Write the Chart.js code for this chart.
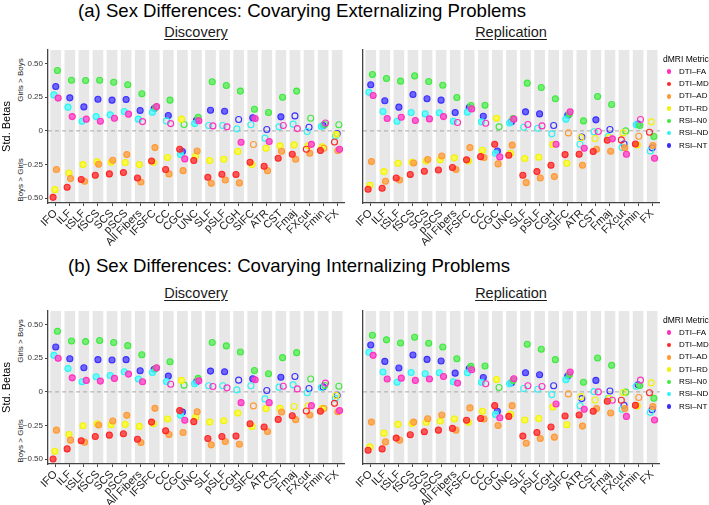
<!DOCTYPE html>
<html>
<head>
<meta charset="utf-8">
<script src="https://cdn.jsdelivr.net/npm/chart.js@4.4.1/dist/chart.umd.min.js"></script>
<style>
  html, body { margin: 0; padding: 0; background: #fff; overflow: hidden; }
  body { width: 709px; height: 505px; position: relative; font-family: "Liberation Sans", Arial, Helvetica, sans-serif; }
  canvas { position: absolute; }
  .title { position: absolute; font-size: 18.6px; line-height: 20px; color: #000; white-space: nowrap; }
  .sub { position: absolute; font-size: 14.5px; line-height: 16px; color: #1a1a1a; text-decoration: underline; text-underline-offset: 2px; white-space: nowrap; transform: translateX(-50%); }
  .side { position: absolute; font-size: 8px; line-height: 9px; color: #1a1a1a; white-space: nowrap; transform: translate(-50%, -50%) rotate(-90deg); }
  .legtitle { position: absolute; font-size: 8.5px; line-height: 10px; color: #000; white-space: nowrap; }
  .legitem { position: absolute; font-size: 8px; line-height: 10px; color: #000; white-space: nowrap; }
  .dot { position: absolute; width: 4.5px; height: 4.5px; border-radius: 50%; }
</style>
</head>
<body>
<div class="title" style="left:78px; top:1px;">(a) Sex Differences: Covarying Externalizing Problems</div>
<div class="title" style="left:68px; top:256px;">(b) Sex Differences: Covarying Internalizing Problems</div>
<div class="sub" style="left:196px; top:24px;">Discovery</div>
<div class="sub" style="left:511px; top:24px;">Replication</div>
<div class="sub" style="left:196px; top:285px;">Discovery</div>
<div class="sub" style="left:511px; top:285px;">Replication</div>
<div class="side" style="left:20px; top:80px;">Girls &gt; Boys</div>
<div class="side" style="left:20px; top:180px;">Boys &gt; Girls</div>
<div class="side" style="left:20px; top:341px;">Girls &gt; Boys</div>
<div class="side" style="left:20px; top:441px;">Boys &gt; Girls</div>

<canvas id="extDisc" width="350" height="222" style="left:0px; top:40px;"></canvas>
<canvas id="extRep" width="310" height="222" style="left:355px; top:40px;"></canvas>
<canvas id="intDisc" width="350" height="222" style="left:0px; top:301px;"></canvas>
<canvas id="intRep" width="310" height="222" style="left:355px; top:301px;"></canvas>

<script>
// tracts on the x axis
const categories = ["IFO", "ILF", "tSLF", "fSCS", "SCS", "pSCS", "All Fibers", "IFSFC", "CC", "CGC", "UNC",
                    "SLF", "pSLF", "CGH", "SIFC", "ATR", "CST", "Fmaj", "FXcut", "Fmin", "FX"];
const metrics = ["DTI–FA", "DTI–MD", "DTI–AD", "DTI–RD", "RSI–N0", "RSI–ND", "RSI–NT"];
const yTicks = [-0.5, -0.25, 0, 0.25, 0.5];
const yTickLabels = ["−0.50", "−0.25", "0", "0.25", "0.50"];

// (a) externalizing, discovery sample
const extDiscFA = [0.243, 0.106, 0.087, 0.072, 0.094, 0.124, 0.069, 0.180, 0.054, -0.208, 0.075, 0.037, 0.030, -0.084, 0.092, -0.079, 0.040, 0.017, -0.100, 0.059, -0.136];
const extDiscMD = [-0.493, -0.418, -0.361, -0.329, -0.319, -0.309, -0.349, -0.223, -0.287, -0.136, -0.220, -0.344, -0.322, -0.324, -0.233, -0.262, -0.203, -0.173, -0.136, -0.146, -0.082];
const extDiscAD = [-0.287, -0.354, -0.374, -0.248, -0.218, -0.176, -0.379, -0.124, -0.319, -0.295, -0.149, -0.389, -0.364, -0.386, -0.101, -0.295, -0.151, -0.210, -0.166, -0.129, -0.146];
const extDiscRD = [-0.436, -0.312, -0.250, -0.230, -0.233, -0.235, -0.250, -0.233, -0.198, 0.087, -0.186, -0.220, -0.210, -0.153, -0.250, -0.129, -0.111, -0.104, -0.110, -0.119, -0.025];
const extDiscN0 = [0.448, 0.376, 0.374, 0.376, 0.361, 0.342, 0.275, 0.176, 0.228, 0.047, 0.101, 0.364, 0.337, 0.295, 0.161, 0.136, 0.250, 0.295, 0.094, 0.047, 0.045];
const extDiscND = [0.267, 0.176, 0.072, 0.106, 0.119, 0.144, 0.087, 0.139, 0.074, -0.176, 0.054, 0.040, 0.040, 0.015, 0.045, -0.054, 0.030, 0.050, -0.005, 0.032, -0.040];
const extDiscNT = [0.329, 0.245, 0.178, 0.235, 0.228, 0.233, 0.151, 0.166, 0.114, -0.153, 0.079, 0.153, 0.146, 0.084, 0.097, 0.010, 0.104, 0.111, 0.027, 0.040, -0.020];
// 1 = significant (filled), 0 = not significant (open)
const extDiscSig = ["111111010110011100101", "111111111111111111010", "111111111111110111101", "111111111111111111111",
                    "111111111011111111000", "111111110110000000010", "111111111111101010010"];

// (a) externalizing, replication sample
const extRepFA = [0.262, 0.092, 0.101, 0.077, 0.089, 0.106, 0.062, 0.163, 0.057, -0.193, 0.087, 0.047, 0.037, -0.099, 0.141, -0.129, -0.005, -0.059, -0.173, 0.084, -0.203];
const extRepMD = [-0.433, -0.426, -0.349, -0.324, -0.300, -0.290, -0.272, -0.215, -0.191, -0.099, -0.181, -0.329, -0.302, -0.255, -0.176, -0.173, -0.153, -0.069, -0.067, -0.097, -0.010];
const extRepAD = [-0.228, -0.374, -0.364, -0.238, -0.213, -0.186, -0.287, -0.124, -0.198, -0.245, -0.106, -0.384, -0.349, -0.339, -0.015, -0.255, -0.136, -0.151, -0.126, -0.040, -0.109];
const extRepRD = [-0.403, -0.302, -0.240, -0.233, -0.223, -0.215, -0.200, -0.223, -0.144, 0.094, -0.166, -0.205, -0.196, -0.101, -0.240, -0.050, -0.057, -0.050, -0.015, -0.104, 0.067];
const extRepN0 = [0.418, 0.389, 0.369, 0.408, 0.366, 0.339, 0.248, 0.188, 0.190, 0.030, 0.092, 0.354, 0.322, 0.238, 0.126, 0.074, 0.255, 0.196, 0.000, 0.040, -0.042];
const extRepND = [0.287, 0.144, 0.072, 0.136, 0.126, 0.134, 0.072, 0.139, 0.067, -0.166, 0.059, 0.027, 0.020, -0.022, 0.087, -0.099, -0.007, -0.042, -0.124, 0.045, -0.149];
const extRepNT = [0.342, 0.223, 0.176, 0.270, 0.238, 0.228, 0.136, 0.173, 0.109, -0.149, 0.067, 0.141, 0.126, 0.040, 0.116, -0.045, 0.082, 0.010, -0.097, 0.050, -0.126];
const extRepSig = ["111111010110011101101", "111111111111111111010", "111111111111110111101", "111111111111111000010",
                   "111111111011111111011", "111111111110001000010", "111111111111101010010"];

// (b) internalizing, discovery sample
const intDiscFA = [0.249, 0.104, 0.085, 0.080, 0.100, 0.132, 0.075, 0.179, 0.057, -0.211, 0.082, 0.040, 0.030, -0.080, 0.090, -0.080, 0.042, 0.022, -0.102, 0.065, -0.139];
const intDiscMD = [-0.498, -0.423, -0.363, -0.331, -0.321, -0.311, -0.351, -0.224, -0.289, -0.139, -0.221, -0.346, -0.331, -0.328, -0.236, -0.261, -0.204, -0.177, -0.142, -0.144, -0.085];
const intDiscAD = [-0.284, -0.358, -0.373, -0.246, -0.216, -0.174, -0.376, -0.122, -0.316, -0.301, -0.147, -0.393, -0.368, -0.388, -0.104, -0.294, -0.149, -0.206, -0.172, -0.124, -0.147];
const intDiscRD = [-0.440, -0.316, -0.251, -0.236, -0.244, -0.241, -0.256, -0.236, -0.201, 0.085, -0.189, -0.224, -0.214, -0.157, -0.256, -0.124, -0.122, -0.109, -0.104, -0.122, -0.027];
const intDiscN0 = [0.450, 0.378, 0.373, 0.381, 0.366, 0.343, 0.276, 0.175, 0.224, 0.050, 0.100, 0.366, 0.341, 0.296, 0.159, 0.134, 0.254, 0.291, 0.095, 0.047, 0.042];
const intDiscND = [0.271, 0.174, 0.075, 0.112, 0.122, 0.149, 0.095, 0.144, 0.077, -0.174, 0.060, 0.045, 0.045, 0.015, 0.045, -0.052, 0.035, 0.052, -0.007, 0.032, -0.047];
const intDiscNT = [0.333, 0.246, 0.179, 0.239, 0.236, 0.239, 0.157, 0.167, 0.117, -0.149, 0.075, 0.154, 0.149, 0.087, 0.097, 0.010, 0.109, 0.114, 0.025, 0.037, -0.025];
const intDiscSig = ["111111110110011100101", "111111111111111111010", "111111111111110111101", "111111111111111110010",
                    "111111111011111111000", "111111111110000000000", "111111111111101010000"];

// (b) internalizing, replication sample
const intRepFA = [0.271, 0.095, 0.102, 0.085, 0.095, 0.114, 0.065, 0.164, 0.060, -0.192, 0.097, 0.045, 0.040, -0.090, 0.147, -0.129, 0.000, -0.062, -0.182, 0.087, -0.209];
const intRepMD = [-0.433, -0.423, -0.343, -0.318, -0.296, -0.284, -0.271, -0.211, -0.197, -0.102, -0.182, -0.328, -0.301, -0.261, -0.179, -0.172, -0.144, -0.070, -0.062, -0.100, -0.007];
const intRepAD = [-0.224, -0.371, -0.358, -0.224, -0.199, -0.172, -0.284, -0.119, -0.201, -0.249, -0.102, -0.381, -0.346, -0.336, -0.015, -0.254, -0.124, -0.157, -0.124, -0.042, -0.109];
const intRepRD = [-0.408, -0.306, -0.241, -0.234, -0.226, -0.216, -0.201, -0.226, -0.144, 0.092, -0.167, -0.209, -0.197, -0.112, -0.244, -0.035, -0.060, -0.050, -0.005, -0.104, 0.067];
const intRepN0 = [0.420, 0.386, 0.363, 0.405, 0.361, 0.333, 0.246, 0.189, 0.192, 0.032, 0.085, 0.353, 0.316, 0.239, 0.129, 0.072, 0.251, 0.197, -0.002, 0.047, -0.047];
const intRepND = [0.294, 0.147, 0.072, 0.144, 0.134, 0.142, 0.075, 0.142, 0.072, -0.167, 0.060, 0.025, 0.020, -0.020, 0.090, -0.102, 0.002, -0.047, -0.129, 0.042, -0.152];
const intRepNT = [0.348, 0.226, 0.177, 0.274, 0.241, 0.229, 0.139, 0.174, 0.107, -0.144, 0.067, 0.142, 0.127, 0.045, 0.117, -0.050, 0.085, 0.007, -0.100, 0.052, -0.132];
const intRepSig = ["111111110110011100101", "111111111111111111010", "111111111111110111101", "111111111111111000010",
                   "111111111011111111011", "111111111110001000000", "111111111111101010000"];

// styling
const strokes = ["#ff2fc0", "#ff2626", "#ff9a30", "#f2f200", "#3fe83f", "#2ef2f2", "#3a2eff"];
const fills = ["rgba(255,70,200,0.8)", "rgba(255,50,50,0.8)", "rgba(255,160,70,0.8)", "rgba(255,255,40,0.8)",
               "rgba(90,240,90,0.8)", "rgba(80,255,255,0.8)", "rgba(80,70,255,0.8)"];
const dodge = [0.17, -0.19, 0.05, -0.06, 0.12, -0.13, 0.0];
const bandHalf = 0.38;

const bandPlugin = {
    id: "bands",
    beforeDraw(chart) {
        const { ctx, chartArea, scales: { x, y } } = chart;
        ctx.save();
        ctx.fillStyle = "#e7e7e7";
        categories.forEach((c, i) => {
            const l = x.getPixelForValue(i - bandHalf);
            const r = x.getPixelForValue(i + bandHalf);
            ctx.fillRect(l, chartArea.top, r - l, chartArea.bottom - chartArea.top);
        });
        const y0 = y.getPixelForValue(0);
        ctx.strokeStyle = "#a8a8a8";
        ctx.lineWidth = 1;
        ctx.setLineDash([4, 3]);
        ctx.beginPath();
        ctx.moveTo(chartArea.left, y0);
        ctx.lineTo(chartArea.right, y0);
        ctx.stroke();
        ctx.restore();
    }
};

function makePanel(canvasId, series, sig, showY) {
    const datasets = metrics.map((m, k) => ({
        label: m,
        data: series[k].map((v, i) => ({ x: i + dodge[k], y: v })),
        pointBackgroundColor: series[k].map((v, i) => sig[k][i] === "1" ? fills[k] : "rgba(0,0,0,0)"),
        pointBorderColor: strokes[k],
        pointBorderWidth: 1.1,
        pointRadius: 3,
        showLine: false
    }));

    new Chart(document.getElementById(canvasId), {
        type: "scatter",
        data: { datasets: datasets },
        plugins: [bandPlugin],
        options: {
            responsive: false,
            animation: false,
            layout: { padding: { top: 10, right: 5, left: 0, bottom: 0 } },
            plugins: { legend: { display: false }, tooltip: { enabled: false } },
            scales: {
                x: {
                    type: "linear",
                    min: -0.55,
                    max: 20.55,
                    afterBuildTicks: s => { s.ticks = categories.map((c, i) => ({ value: i })); },
                    afterFit: s => { s.height = 59; },
                    ticks: {
                        autoSkip: false,
                        minRotation: 45,
                        maxRotation: 45,
                        padding: 1,
                        color: "#1a1a1a",
                        font: { family: "'Liberation Sans', Arial", size: 11 },
                        callback: v => categories[v]
                    },
                    grid: { drawOnChartArea: false, tickLength: 3, color: "#444" },
                    border: { color: "#444", width: 1.3 }
                },
                y: {
                    min: -0.535,
                    max: 0.6,
                    afterBuildTicks: s => { s.ticks = yTicks.map(v => ({ value: v })); },
                    afterFit: s => { s.width = showY ? 48 : 8; },
                    ticks: {
                        display: showY,
                        padding: 2,
                        color: "#333",
                        font: { family: "'Liberation Sans', Arial", size: 8 },
                        callback: (v, idx) => yTickLabels[idx]
                    },
                    grid: { drawOnChartArea: false, tickLength: showY ? 3 : 0, color: "#444" },
                    border: { color: "#444", width: 1.3 },
                    title: {
                        display: showY,
                        text: "Std. Betas",
                        padding: 0,
                        color: "#000",
                        font: { family: "'Liberation Sans', Arial", size: 11 }
                    }
                }
            }
        }
    });
}

function makeLegend(top) {
    const t = document.createElement("div");
    t.className = "legtitle";
    t.style.left = "663px";
    t.style.top = (top - 5) + "px";
    t.textContent = "dMRI Metric";
    document.body.appendChild(t);
    metrics.forEach((m, k) => {
        const cy = top + 12.7 + k * 12.3;
        const d = document.createElement("div");
        d.className = "dot";
        d.style.left = "666.5px";
        d.style.top = (cy - 2.25) + "px";
        d.style.background = strokes[k];
        document.body.appendChild(d);
        const l = document.createElement("div");
        l.className = "legitem";
        l.style.left = "679px";
        l.style.top = (cy - 5) + "px";
        l.textContent = m;
        document.body.appendChild(l);
    });
}

makePanel("extDisc", [extDiscFA, extDiscMD, extDiscAD, extDiscRD, extDiscN0, extDiscND, extDiscNT], extDiscSig, true);
makePanel("extRep", [extRepFA, extRepMD, extRepAD, extRepRD, extRepN0, extRepND, extRepNT], extRepSig, false);
makePanel("intDisc", [intDiscFA, intDiscMD, intDiscAD, intDiscRD, intDiscN0, intDiscND, intDiscNT], intDiscSig, true);
makePanel("intRep", [intRepFA, intRepMD, intRepAD, intRepRD, intRepN0, intRepND, intRepNT], intRepSig, false);
makeLegend(59);
makeLegend(320);
</script>
</body>
</html>
